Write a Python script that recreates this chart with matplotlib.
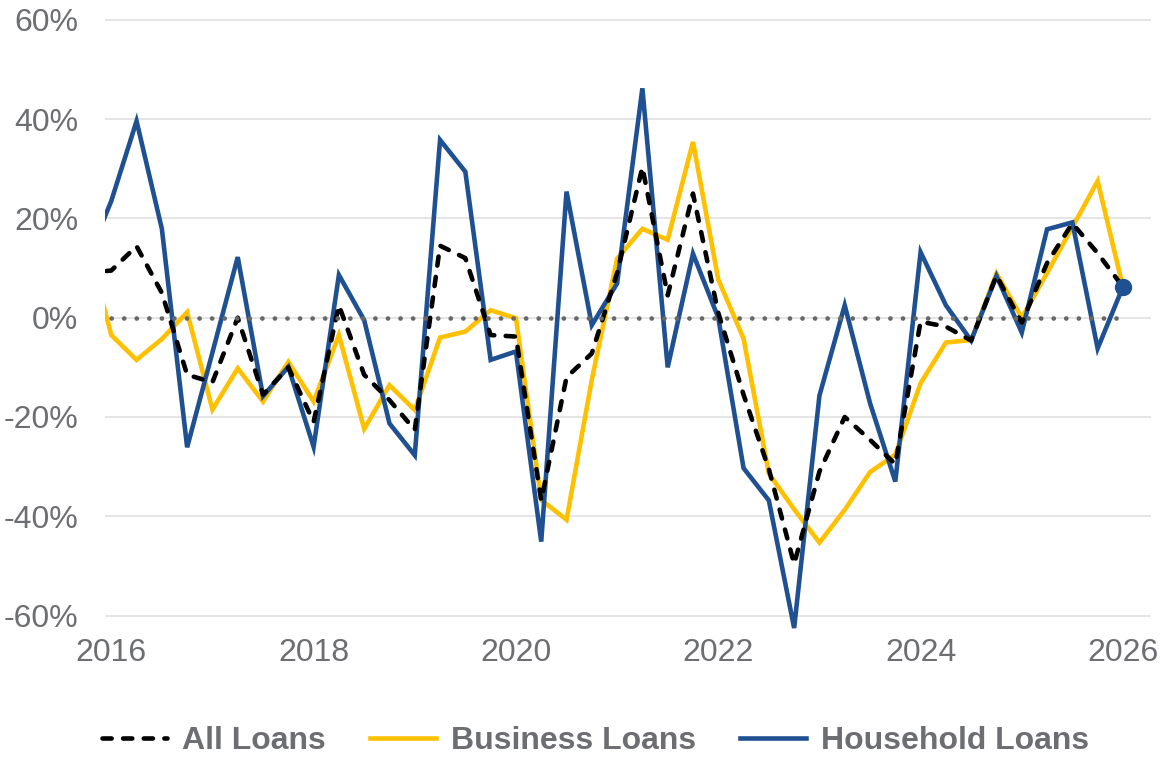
"""Quarterly loan growth: all, business and household loans, 2016-2026."""
import numpy as np
import matplotlib
matplotlib.use("Agg")
import matplotlib.pyplot as plt

plt.rcParams["font.family"] = ["Liberation Sans", "DejaVu Sans"]

# quarterly points, first one (2015 Q4) sits just outside the left edge
quarters = np.arange(2015.75, 2026.01, 0.25)

all_loans = [9, 9.5, 14.4, 5, -11.5, -13, 0, -15.5, -10, -21, 2.5, -11.5, -16.6, -22.6,
             14.5, 12, -3.5, -3.8, -36.8, -12, -7.2, 9, 30.3, 4.5, 25, 1, -15.5, -30.5,
             -49.6, -31, -20, -24.6, -29.5, -0.8, -1.8, -4.6, 8.5, -1, 11, 19, 13, 6.2]
business = [16, -3.5, -8.5, -4.3, 1.1, -18.5, -10.2, -16.9, -8.9, -16.9, -3.5, -22.4, -13.6,
            -18.6, -4, -2.8, 1.5, -0.1, -36.7, -40.7, -12.5, 11.9, 17.9, 15.7, 35.4, 7.7,
            -4.2, -31.4, -38.6, -45.3, -38.7, -31.1, -27.6, -13.2, -5, -4.5, 8.9, 0, 9,
            18.2, 27.5, 6.2]
household = [11, 23.5, 39.6, 17.9, -26.1, -7, 12.2, -15.8, -9.9, -26, 8.6, -0.5, -21.3,
             -27.7, 35.8, 29.4, -8.5, -6.8, -45.1, 25.4, -1.5, 6.9, 46.2, -10, 12.9, 0,
             -30.3, -36.8, -62.5, -15.7, 2.5, -17.2, -33, 13.2, 2.5, -4.6, 8.4, -3, 17.8,
             19.2, -6.2, 6.2]

years = [2016, 2018, 2020, 2022, 2024, 2026]
pct_ticks = [-60, -40, -20, 0, 20, 40, 60]

GREY = "#6d6e71"
BLUE = "#1f5192"
GOLD = "#ffc000"
LW = 3.3

fig = plt.figure(figsize=(11.65, 7.64), dpi=100)
ax = fig.add_axes([0.0903, 0.1715, 0.8979, 0.8091])

ax.plot(quarters, business, color=GOLD, lw=LW, zorder=3, label="Business Loans",
        solid_joinstyle="miter")
ax.plot(quarters, household, color=BLUE, lw=LW, zorder=4, label="Household Loans",
        solid_joinstyle="miter")
ax.plot(quarters, all_loans, color="black", lw=LW, zorder=5, ls=(0, (2.0, 2.5)),
        dash_capstyle="round", label="All Loans")
# zero reference as dotted series
ax.plot(quarters, np.zeros(len(quarters)), color="#676767", lw=3.4, ls=(0, (0.01, 2.65)),
        dash_capstyle="round", zorder=6)
ax.plot(quarters[-1], household[-1], "o", color=BLUE, ms=11.5, zorder=7)

ax.set_xlim(2015.94, 2026.28)
ax.set_ylim(-63.5, 61)
ax.set_xticks(years)
ax.set_xticklabels([str(y) for y in years])
ax.set_yticks(pct_ticks)
ax.set_yticklabels([f"{v}%" for v in pct_ticks])
ax.grid(axis="y", color="#e3e3e3", lw=1.3, zorder=0)
ax.tick_params(axis="both", length=0, labelsize=23, labelcolor=GREY)
ax.tick_params(axis="y", pad=19.5)
ax.tick_params(axis="x", pad=3.5)
for s in ax.spines.values():
    s.set_visible(False)

h, l = ax.get_legend_handles_labels()
order = [2, 0, 1]
leg = fig.legend([h[i] for i in order], [l[i] for i in order], loc="center",
                 bbox_to_anchor=(0.511, 0.030), ncol=3, frameon=False,
                 handlelength=2.05, handletextpad=0.47, columnspacing=1.38,
                 prop={"size": 23, "weight": "bold"})
for t in leg.get_texts():
    t.set_color(GREY)

fig.savefig("out.png", dpi=100)
